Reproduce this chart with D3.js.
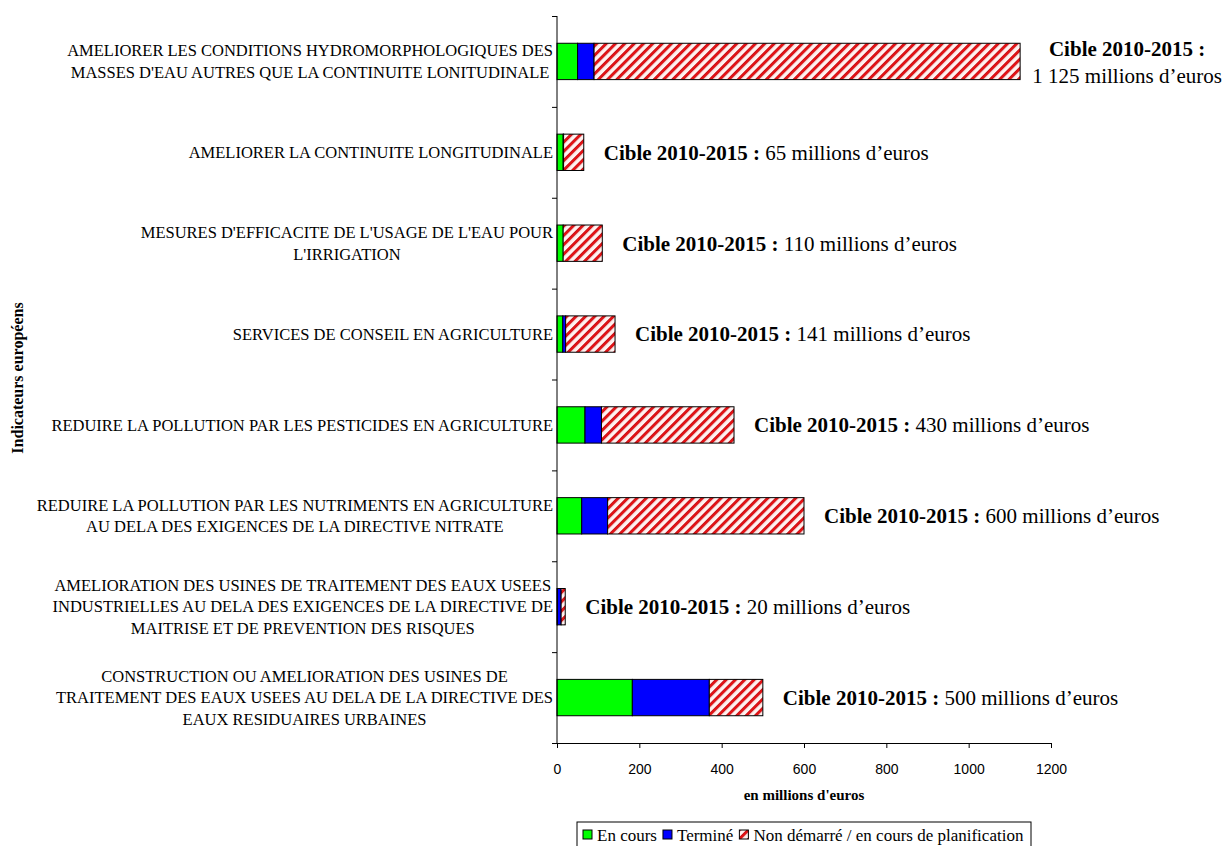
<!DOCTYPE html>
<html>
<head>
<meta charset="utf-8">
<script src="https://cdn.jsdelivr.net/npm/d3@7"></script>
<style>
  body { margin: 0; background: #fff; }
  text { font-family: "Liberation Serif", "Times New Roman", serif; }
</style>
</head>
<body>
<div id="chart"></div>
<script>
// Data
var categories = [
  ["AMELIORER LES CONDITIONS HYDROMORPHOLOGIQUES DES", "MASSES D'EAU AUTRES QUE LA CONTINUITE LONITUDINALE"],
  ["AMELIORER LA CONTINUITE LONGITUDINALE"],
  ["MESURES D'EFFICACITE DE L'USAGE DE L'EAU POUR", "L'IRRIGATION"],
  ["SERVICES DE CONSEIL EN AGRICULTURE"],
  ["REDUIRE LA POLLUTION PAR LES PESTICIDES EN AGRICULTURE"],
  ["REDUIRE LA POLLUTION PAR LES NUTRIMENTS EN AGRICULTURE", "AU DELA DES EXIGENCES DE LA DIRECTIVE NITRATE"],
  ["AMELIORATION DES USINES DE TRAITEMENT DES EAUX USEES", "INDUSTRIELLES AU DELA DES EXIGENCES DE LA DIRECTIVE DE", "MAITRISE ET DE PREVENTION DES RISQUES"],
  ["CONSTRUCTION OU AMELIORATION DES USINES DE", "TRAITEMENT DES EAUX USEES AU DELA DE LA DIRECTIVE DES", "EAUX RESIDUAIRES URBAINES"]
];
var enCours   = [50, 15, 15, 14, 68, 60, 1, 183];
var termine   = [40, 1, 0, 7, 40, 63, 9, 187];
var nonDemarre = [1035, 49, 95, 120, 322, 477, 10, 130];
var cibles = ["1 125", "65", "110", "141", "430", "600", "20", "500"];
var xTicks = [0, 200, 400, 600, 800, 1000, 1200];
var seriesNames = ["En cours", "Terminé", "Non démarré / en cours de planification"];

var svgWidth = 1226;
var svgHeight = 846;
var margin = { top: 16, left: 557 };
var chartWidth = 494;
var chartHeight = 727;

var svg = d3.select("#chart").append("svg")
  .attr("width", svgWidth)
  .attr("height", svgHeight);

// Hatch pattern
var defs = svg.append("defs");
var pat = defs.append("pattern")
  .attr("id", "hatch")
  .attr("patternUnits", "userSpaceOnUse")
  .attr("width", 6.6)
  .attr("height", 6.6)
  .attr("patternTransform", "rotate(45)");
pat.append("rect").attr("width", 6.6).attr("height", 6.6).attr("fill", "#fff2f0");
pat.append("rect").attr("x", 0).attr("width", 3).attr("height", 6.6).attr("fill", "#c0141c");
pat.append("rect").attr("x", 0.8).attr("width", 1.4).attr("height", 6.6).attr("fill", "#f01010");

var chartGroup = svg.append("g").attr("transform", `translate(${margin.left}, ${margin.top})`);

var idx = d3.range(categories.length);
var xScale = d3.scaleLinear().domain([0, 1200]).range([0, chartWidth]);
var yScale = d3.scaleBand().domain(idx).range([0, chartHeight]).paddingInner(0.6).paddingOuter(0.3);
var yBound = d3.scaleLinear().domain([0, categories.length]).range([0, chartHeight]);

// Stacked data
var rows = idx.map(i => ({ i: i, enCours: enCours[i], termine: termine[i], nonDemarre: nonDemarre[i] }));
var stack = d3.stack().keys(["enCours", "termine", "nonDemarre"]);
var stacked = stack(rows);
var fills = ["#00ff00", "#0000ff", "url(#hatch)"];

chartGroup.selectAll(".layer")
  .data(stacked)
  .enter()
  .append("g")
  .attr("fill", (d, k) => fills[k])
  .selectAll("rect")
  .data(d => d)
  .enter()
  .append("rect")
  .filter(d => d[1] - d[0] > 0)
  .attr("x", d => xScale(d[0]))
  .attr("y", d => yScale(d.data.i))
  .attr("width", d => xScale(d[1]) - xScale(d[0]))
  .attr("height", yScale.bandwidth())
  .attr("stroke", "#000")
  .attr("stroke-width", 1);

// Axes
var xAxis = chartGroup.append("g")
  .attr("transform", `translate(0, ${chartHeight})`)
  .call(d3.axisBottom(xScale).tickValues(xTicks).tickSize(5).tickFormat(d3.format("d")));
xAxis.select(".domain").attr("stroke", "#000");
xAxis.selectAll("text")
  .style("font-family", "'Liberation Sans', Arial, sans-serif")
  .style("font-size", "14px")
  .attr("dy", "1.65em")
  .attr("fill", "#000");

var yAxis = chartGroup.append("g")
  .call(d3.axisLeft(yBound).ticks(categories.length).tickSize(5).tickFormat(""));
yAxis.select(".domain").attr("d", `M0,0V${chartHeight}`);

// Category labels (centred block, right-aligned to the axis)
var lineH = 21.5;
idx.forEach(function(i) {
  var lines = categories[i];
  var g = chartGroup.append("g");
  var cy = yScale(i) + yScale.bandwidth() / 2;
  var texts = lines.map(function(l, j) {
    return g.append("text")
      .attr("y", cy + (j - (lines.length - 1) / 2) * lineH)
      .attr("dy", "0.35em")
      .attr("text-anchor", "middle")
      .style("font-size", "16.5px")
      .text(l);
  });
  var maxW = d3.max(texts, t => t.node().getComputedTextLength());
  texts.forEach(t => t.attr("x", -4 - maxW / 2));
});

// Target annotations
idx.forEach(function(i) {
  var total = enCours[i] + termine[i] + nonDemarre[i];
  var cy = yScale(i) + yScale.bandwidth() / 2;
  if (i === 0) {
    var cx = xScale(total) + 107;
    chartGroup.append("text")
      .attr("x", cx).attr("y", cy - 13).attr("dy", "0.35em")
      .attr("text-anchor", "middle")
      .style("font-size", "21px").style("font-weight", "bold")
      .text("Cible 2010-2015 :");
    chartGroup.append("text")
      .attr("x", cx).attr("y", cy + 14).attr("dy", "0.35em")
      .attr("text-anchor", "middle")
      .style("font-size", "21px")
      .text(cibles[i] + " millions d\u2019euros");
  } else {
    var t = chartGroup.append("text")
      .attr("x", xScale(total) + 20).attr("y", cy).attr("dy", "0.35em")
      .style("font-size", "21px");
    t.append("tspan").style("font-weight", "bold").text("Cible 2010-2015 : ");
    t.append("tspan").text(cibles[i] + " millions d\u2019euros");
  }
});

// Axis titles
chartGroup.append("text")
  .attr("x", chartWidth / 2)
  .attr("y", chartHeight + 57)
  .attr("text-anchor", "middle")
  .style("font-size", "15px")
  .style("font-weight", "bold")
  .text("en millions d'euros");

svg.append("text")
  .attr("transform", "rotate(-90)")
  .attr("x", -378)
  .attr("y", 23)
  .attr("text-anchor", "middle")
  .style("font-size", "16px")
  .style("font-weight", "bold")
  .text("Indicateurs européens");

// Legend
var legend = svg.append("g").attr("transform", "translate(577, 822)");
legend.append("rect")
  .attr("width", 454).attr("height", 30)
  .attr("fill", "#fff").attr("stroke", "#000");
var lx = 6;
seriesNames.forEach(function(name, k) {
  legend.append("rect")
    .attr("x", lx).attr("y", 8)
    .attr("width", 9).attr("height", 9)
    .attr("fill", fills[k]).attr("stroke", "#000");
  var t = legend.append("text")
    .attr("x", lx + 14).attr("y", 19)
    .style("font-size", "17px")
    .text(name);
  lx += 14 + t.node().getComputedTextLength() + 6;
});
</script>
</body>
</html>
